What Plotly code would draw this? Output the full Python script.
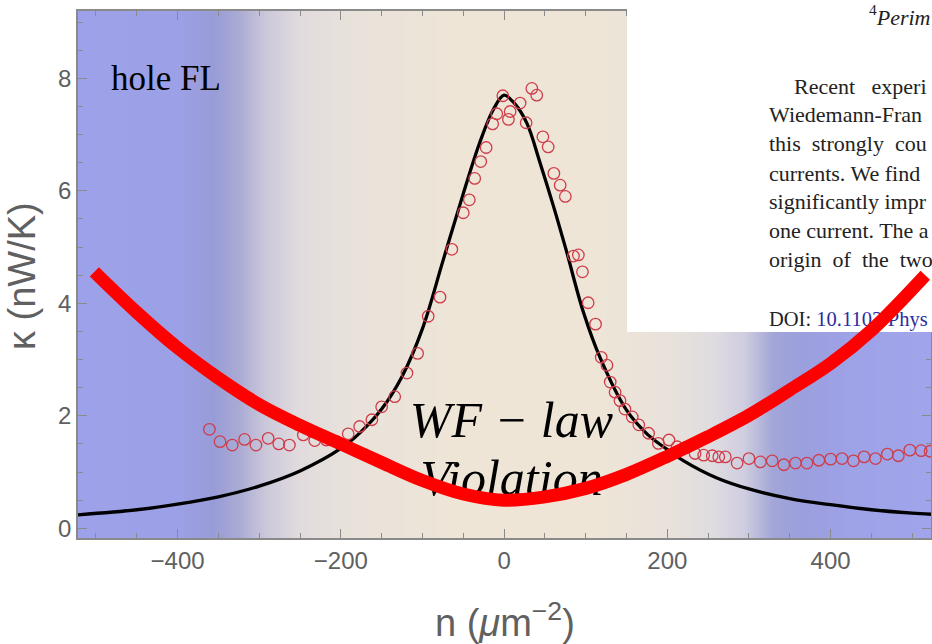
import numpy as np
import plotly.graph_objects as go

# ---------------- data ----------------
n_meas = [-361, -348, -333, -318, -304, -289, -276, -263, -246, -232, -218, -205,
          -191, -177, -162, -150, -134, -119, -106, -93, -78.5, -64, -50, -42.6,
          -36, -28.6, -22, -14, -9, -1.6, 5.3, 7.4, 19.6, 27, 34, 40, 47.5, 54,
          61, 68.7, 75, 85, 91, 96, 103, 112, 119, 126, 130, 136, 142, 148, 157,
          165, 177, 189, 202, 212, 223, 234, 244.5, 255, 263, 271, 285.5, 300,
          314, 328.5, 342.7, 357, 371, 385.6, 400, 414, 428, 441, 455, 469.5,
          483, 497, 511, 522]
kappa_meas = [1.76, 1.54, 1.48, 1.58, 1.48, 1.60, 1.50, 1.48, 1.66, 1.56, 1.57, 1.54,
              1.68, 1.81, 1.93, 2.16, 2.34, 2.76, 3.11, 3.77, 4.11, 4.96, 5.61, 5.84,
              6.22, 6.52, 6.77, 7.19, 7.37, 7.69, 7.27, 7.41, 7.56, 7.21, 7.82, 7.70,
              6.96, 6.78, 6.31, 6.10, 5.90, 4.84, 4.86, 4.56, 4.01, 3.63, 3.04, 2.90,
              2.60, 2.42, 2.27, 2.12, 1.98, 1.84, 1.69, 1.51, 1.57, 1.45, 1.44, 1.33,
              1.30, 1.29, 1.27, 1.27, 1.16, 1.24, 1.18, 1.20, 1.13, 1.16, 1.16, 1.21,
              1.23, 1.24, 1.20, 1.27, 1.24, 1.32, 1.29, 1.39, 1.38, 1.37]

n_fit = [-522, -450, -400, -350, -300, -250, -200, -175, -150, -125, -100, -75,
         -50, -30, -13, 0, 13, 28, 44, 60, 76, 97, 118, 150, 175, 200, 220, 260,
         300, 350, 400, 450, 500, 523]
kappa_fit = [0.24, 0.33, 0.43, 0.56, 0.75, 1.02, 1.42, 1.72, 2.12, 2.70, 3.55, 4.75,
             5.95, 6.85, 7.45, 7.70, 7.55, 7.20, 6.50, 5.75, 4.95, 3.85, 3.02, 2.10,
             1.68, 1.40, 1.20, 0.90, 0.70, 0.53, 0.42, 0.33, 0.27, 0.25]

n_wf = [-502, -450, -400, -350, -300, -250, -200, -150, -100, -50, 0, 50, 100, 150,
        200, 250, 300, 350, 400, 450, 516]
kappa_wf = [4.56, 3.84, 3.21, 2.67, 2.20, 1.83, 1.50, 1.17, 0.85, 0.61, 0.50, 0.56,
            0.71, 0.96, 1.28, 1.63, 2.01, 2.46, 2.93, 3.52, 4.50]

x_ticks_major = 200
y_ticks_major = 2

annot_text = ["<i>WF − law</i>", "<i>Violation</i>"]
paper_lines = [
    "<sup>4</sup><i>Perim</i>",
    "Recent\u00a0\u00a0 experi",
    "Wiedemann-Fran",
    "this\u00a0 strongly\u00a0 cou",
    "currents. We find",
    "significantly impr",
    "one current. The a",
    "origin\u00a0 of\u00a0 the\u00a0 two",
]
doi_line = "DOI: <span style='color:#2c2ca0'>10.1103/Phys</span>"

# ---------------- style ----------------
W, H = 932, 644
PL, PR, PT, PB = 78, 931, 11, 538          # plot frame in pixels
X_RANGE = [-522, 523]
Y_RANGE = [-0.172, 9.197]
FRAME = "#8a8a8a"
TXT = "#606060"

grad = [(-522, "rgb(157,161,233)"), (-400, "rgb(156,160,230)"),
        (-355, "rgb(152,156,214)"), (-325, "rgb(170,171,212)"),
        (-292, "rgb(202,199,218)"), (-255, "rgb(224,218,221)"),
        (-185, "rgb(233,226,218)"), (-60, "rgb(238,229,215)"),
        (110, "rgb(238,229,215)"), (200, "rgb(233,226,218)"),
        (255, "rgb(224,220,224)"), (295, "rgb(206,204,224)"),
        (330, "rgb(162,165,215)"), (365, "rgb(155,159,221)"),
        (430, "rgb(158,162,231)"), (523, "rgb(160,164,234)")]
span = X_RANGE[1] - X_RANGE[0]
colorscale = [[(v - X_RANGE[0]) / span, c] for v, c in grad]
bg_x = np.linspace(X_RANGE[0], X_RANGE[1], 420)

paper_x = [869, 794, 769, 769, 769, 769, 769, 769]
paper_y = [19, 88, 116, 145, 175, 203, 232, 261]
doi_xy = (769, 321)

fig = go.Figure()

# background gradient
fig.add_trace(go.Heatmap(x=bg_x, y=Y_RANGE, z=[bg_x, bg_x], colorscale=colorscale,
                         zmin=X_RANGE[0], zmax=X_RANGE[1], showscale=False,
                         hoverinfo="skip", xaxis="x", yaxis="y"))
# fit curve
fig.add_trace(go.Scatter(x=n_fit, y=kappa_fit, mode="lines",
                         line=dict(color="black", width=3.3, shape="spline", smoothing=1.0),
                         xaxis="x", yaxis="y", showlegend=False))
# measurements
fig.add_trace(go.Scatter(x=n_meas, y=kappa_meas, mode="markers",
                         marker=dict(symbol="circle-open", size=11.5, color="#cf3d4a",
                                     line=dict(width=1.3)),
                         xaxis="x", yaxis="y", showlegend=False))
# WF-law text (under the red curve)
fig.add_trace(go.Scatter(x=[9, 9], y=[1.85, 0.82], mode="text", text=annot_text,
                         textposition="middle center",
                         textfont=dict(family="Liberation Serif", size=50, color="black"),
                         xaxis="x", yaxis="y", showlegend=False, hoverinfo="skip"))

# pasted paper snippet (white box + text)
fig.add_trace(go.Scatter(x=[627, 940, 940, 627, 627], y=[-5, -5, 332, 332, -5],
                         mode="lines", fill="toself", fillcolor="white",
                         line=dict(width=0, color="white"),
                         xaxis="x2", yaxis="y2", showlegend=False, hoverinfo="skip"))
fig.add_trace(go.Scatter(x=paper_x, y=paper_y, mode="text", text=paper_lines,
                         textposition="middle right",
                         textfont=dict(family="Liberation Serif", size=22, color="#222222"),
                         xaxis="x2", yaxis="y2", showlegend=False, hoverinfo="skip"))
fig.add_trace(go.Scatter(x=[doi_xy[0]], y=[doi_xy[1]], mode="text", text=[doi_line],
                         textposition="middle right",
                         textfont=dict(family="Liberation Serif", size=20.5, color="#222222"),
                         xaxis="x2", yaxis="y2", showlegend=False, hoverinfo="skip"))

# red WF-law curve on top
fig.add_trace(go.Scatter(x=n_wf, y=kappa_wf, mode="lines",
                         line=dict(color="#ff0000", width=13, shape="spline", smoothing=1.0),
                         xaxis="x3", yaxis="y3", showlegend=False))

xdom = [PL / W, PR / W]
ydom = [(H - PB) / H, (H - PT) / H]

fig.update_layout(
    width=W, height=H, margin=dict(l=0, r=0, t=0, b=0),
    paper_bgcolor="white", plot_bgcolor="rgba(0,0,0,0)",
    showlegend=False,
    xaxis=dict(domain=xdom, range=X_RANGE, anchor="y", showline=True, linecolor=FRAME,
               linewidth=1.5, mirror="ticks", ticks="inside", ticklen=9, tickwidth=1.3,
               tickcolor=FRAME, tick0=0, dtick=x_ticks_major,
               minor=dict(ticks="inside", ticklen=5, tickwidth=1, tickcolor=FRAME, dtick=50),
               tickfont=dict(family="Liberation Sans", size=24, color=TXT),
               showgrid=False, zeroline=False, automargin=False),
    yaxis=dict(domain=ydom, range=Y_RANGE, anchor="x", showline=True, linecolor=FRAME,
               linewidth=1.5, mirror="ticks", ticks="inside", ticklen=9, tickwidth=1.3,
               tickcolor=FRAME, tick0=0, dtick=y_ticks_major,
               minor=dict(ticks="inside", ticklen=5, tickwidth=1, tickcolor=FRAME, dtick=0.5),
               tickfont=dict(family="Liberation Sans", size=24, color=TXT),
               showgrid=False, zeroline=False, automargin=False),
    xaxis2=dict(domain=[0, 1], range=[0, W], anchor="y2", visible=False, fixedrange=True),
    yaxis2=dict(domain=[0, 1], range=[H, 0], anchor="x2", visible=False, fixedrange=True),
    xaxis3=dict(domain=xdom, range=X_RANGE, anchor="y3", visible=False),
    yaxis3=dict(domain=ydom, range=Y_RANGE, anchor="x3", visible=False),
    annotations=[
        dict(text="n (<i>μ</i>m<sup>−2</sup>)", xref="paper", yref="paper",
             x=505 / W, y=1 - 620 / H, xanchor="center", yanchor="middle",
             showarrow=False, font=dict(family="Liberation Sans", size=38, color=TXT)),
        dict(text="κ (nW/K)", xref="paper", yref="paper", textangle=-90,
             x=22 / W, y=1 - 276 / H, xanchor="center", yanchor="middle",
             showarrow=False, font=dict(family="Liberation Sans", size=38, color=TXT)),
        dict(text="hole FL", xref="x", yref="y", x=-414, y=8.0,
             xanchor="center", yanchor="middle", showarrow=False,
             font=dict(family="Liberation Serif", size=35, color="black")),
    ],
)

fig.write_html("out.html")
